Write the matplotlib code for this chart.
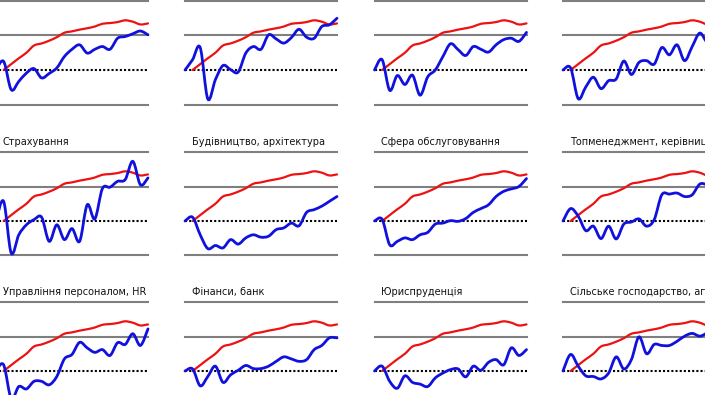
import numpy as np
import matplotlib
matplotlib.use("Agg")
import matplotlib.pyplot as plt
from matplotlib.path import Path
from matplotlib.patches import PathPatch

# ---------------- data ----------------
periods = list(range(21))

reference = [np.nan, 0.00, 0.17, 0.34, 0.50, 0.71, 0.77, 0.85, 0.95, 1.08, 1.12,
             1.17, 1.21, 1.26, 1.34, 1.36, 1.39, 1.44, 1.40, 1.32, 1.35]

titles = [
    "", "", "", "",
    "Страхування", "Будівництво, архітектура", "Сфера обслуговування",
    "Топменеджмент, керівництво вищої ланки",
    "Управління персоналом, HR", "Фінанси, банк", "Юриспруденція",
    "Сільське господарство, агробізнес",
]

r1c1 = [0.00, 0.25, -0.57, -0.33, -0.09, 0.04, -0.23, -0.10, 0.06, 0.39, 0.60,
        0.73, 0.49, 0.60, 0.68, 0.60, 0.92, 0.97, 1.05, 1.13, 1.02]
r1c2 = [0.00, 0.30, 0.65, -0.84, -0.28, 0.13, 0.01, -0.06, 0.49, 0.68, 0.60,
        1.02, 0.90, 0.78, 0.94, 1.18, 0.95, 0.92, 1.26, 1.31, 1.50]
r1c3 = [0.00, 0.30, -0.59, -0.16, -0.42, -0.15, -0.73, -0.20, 0.00, 0.39, 0.76,
        0.59, 0.42, 0.68, 0.60, 0.52, 0.73, 0.88, 0.92, 0.83, 1.09]
r1c4 = [0.00, 0.06, -0.83, -0.49, -0.21, -0.54, -0.31, -0.26, 0.26, -0.13, 0.22,
        0.27, 0.17, 0.65, 0.44, 0.73, 0.27, 0.68, 1.07, 0.80, 0.90]
r2c1 = [0.00, 0.57, -0.93, -0.40, -0.11, 0.04, 0.11, -0.59, -0.11, -0.54, -0.22,
        -0.59, 0.47, 0.06, 0.94, 0.98, 1.15, 1.20, 1.73, 1.05, 1.25]
r2c2 = [0.00, 0.11, -0.40, -0.80, -0.71, -0.78, -0.54, -0.67, -0.49, -0.40, -0.47,
        -0.44, -0.25, -0.20, -0.06, -0.14, 0.25, 0.33, 0.43, 0.57, 0.71]
r2c3 = [0.00, 0.05, -0.69, -0.59, -0.49, -0.54, -0.40, -0.33, -0.09, -0.06, 0.01,
        -0.01, 0.07, 0.25, 0.36, 0.47, 0.71, 0.86, 0.93, 1.00, 1.23]
r2c4 = [0.00, 0.36, 0.14, -0.28, -0.15, -0.51, -0.15, -0.52, -0.09, -0.03, 0.06,
        -0.15, 0.04, 0.76, 0.78, 0.81, 0.71, 0.76, 1.07, 1.05, 1.00]
r3c1 = [0.00, 0.18, -0.80, -0.45, -0.52, -0.30, -0.30, -0.40, -0.16, 0.35, 0.48,
        0.83, 0.67, 0.54, 0.62, 0.45, 0.82, 0.77, 1.08, 0.74, 1.22]
r3c2 = [0.00, 0.06, -0.43, -0.16, 0.14, -0.33, -0.11, 0.02, 0.16, 0.07, 0.07,
        0.14, 0.28, 0.41, 0.35, 0.28, 0.33, 0.62, 0.74, 0.96, 0.96]
r3c3 = [0.00, 0.14, -0.30, -0.50, -0.14, -0.33, -0.38, -0.45, -0.20, -0.06, 0.04,
        0.06, -0.17, 0.14, 0.02, 0.25, 0.33, 0.18, 0.67, 0.45, 0.62]
r3c4 = [0.00, 0.48, 0.14, -0.14, -0.16, -0.23, -0.06, 0.41, 0.06, 0.33, 0.99,
        0.50, 0.77, 0.74, 0.74, 0.86, 1.01, 1.09, 1.01, 1.10, 1.15]

series = [r1c1, r1c2, r1c3, r1c4, r2c1, r2c2, r2c3, r2c4, r3c1, r3c2, r3c3, r3c4]
grid_levels = [-1, 1, 2]


# ------------- smoothed line (Excel-like smoothing of the drawn line) -------------
def smooth_path(xs, ys):
    pts = [(x, y) for x, y in zip(xs, ys) if not np.isnan(y)]
    p = np.array(pts, dtype=float)
    verts = [tuple(p[0])]
    codes = [Path.MOVETO]
    n = len(p)
    for i in range(n - 1):
        p0 = p[i - 1] if i > 0 else p[i]
        p1 = p[i]
        p2 = p[i + 1]
        p3 = p[i + 2] if i + 2 < n else p[i + 1]
        c1 = p1 + (p2 - p0) / 6.0
        c2 = p2 - (p3 - p1) / 6.0
        verts += [tuple(c1), tuple(c2), tuple(p2)]
        codes += [Path.CURVE4] * 3
    return Path(verts, codes)


# ---------------- figure ----------------
W, H = 705, 395
fig = plt.figure(figsize=(W / 100, H / 100), dpi=100)
fig.patch.set_facecolor("white")

col_left = [-4, 185, 374.5, 563]
panel_w = 152
row_zero = [70, 221, 371]
unit = 34.5
ylo, yhi = -1.3, 2.4

for k, vals in enumerate(series):
    r, c = divmod(k, 4)
    top_px = row_zero[r] - yhi * unit
    h_px = (yhi - ylo) * unit
    ax = fig.add_axes([col_left[c] / W, 1 - (top_px + h_px) / H, panel_w / W, h_px / H])
    ax.set_xlim(periods[0], periods[-1])
    ax.set_ylim(ylo, yhi)
    ax.axis("off")

    for lv in grid_levels:
        ax.axhline(lv, color="#7f7f7f", lw=1.5, zorder=1, clip_on=False)
    ax.axhline(0, color="black", lw=1.5, ls=(0, (1, 1)), zorder=2, clip_on=False)

    ax.add_patch(PathPatch(smooth_path(periods, reference), facecolor="none",
                           edgecolor="#ee1111", lw=1.6, zorder=3, clip_on=False,
                           capstyle="round", joinstyle="round"))
    ax.add_patch(PathPatch(smooth_path(periods, vals), facecolor="none",
                           edgecolor="#1111dd", lw=2.0, zorder=4, clip_on=False,
                           capstyle="round", joinstyle="round"))

    if titles[k]:
        ax.text(0.88, 2.28, titles[k], fontsize=7, color="#111111",
                ha="left", va="center", family="DejaVu Sans", clip_on=False)

fig.savefig("out.png", dpi=100)
